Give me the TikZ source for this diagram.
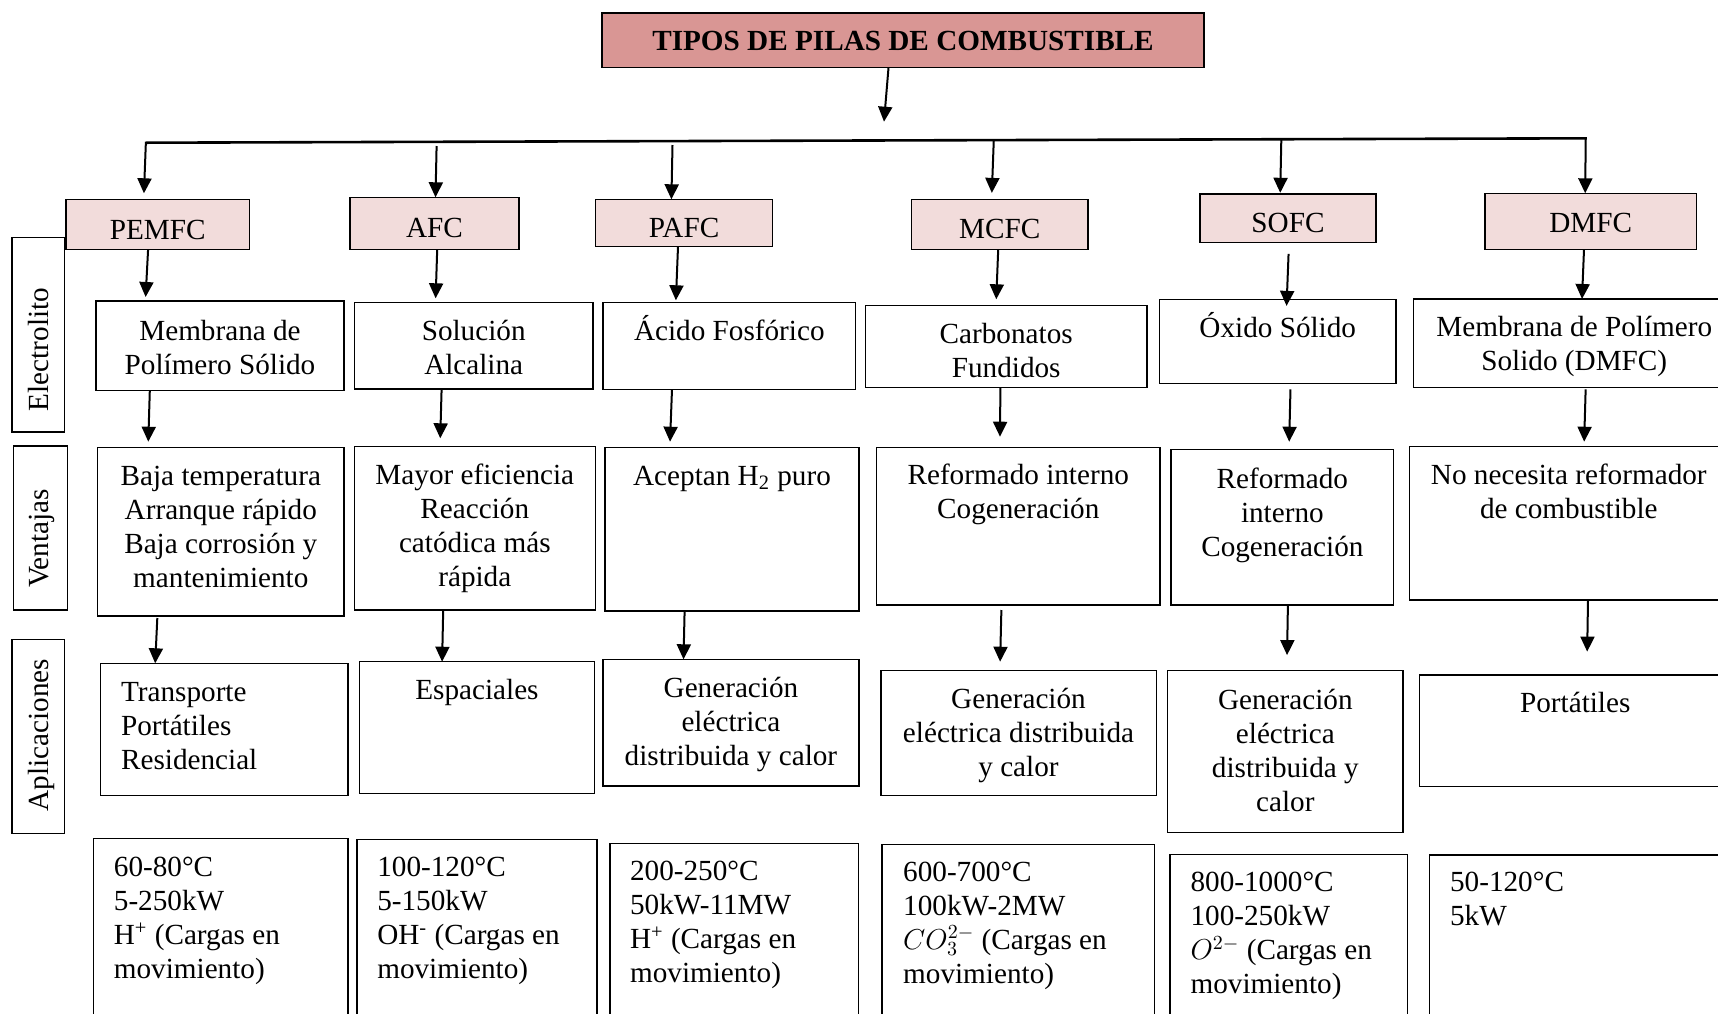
\documentclass[tikz,border=0pt]{standalone}
\usepackage{fontspec}
\setmainfont{Liberation Serif}
\usetikzlibrary{calc,arrows.meta}
\definecolor{titlepink}{RGB}{217,150,148}
\definecolor{typepink}{RGB}{242,220,219}
\newcommand\mkbox[6][]{\node[box,#1,minimum width={(#5-#3)*0.5pt},minimum height={(#6-#4)*0.5pt}] (#2) at (#3,#4) {};}
\newcommand\txtsize{\fontsize{14.6}{17}\selectfont}
\begin{document}
\begin{tikzpicture}[x=0.5pt,y=-0.5pt,
  box/.style={draw=black,line width=0.7pt,inner sep=0pt,outer sep=0pt,anchor=north west},
  arr/.style={line width=1pt,-{Triangle[length=7.5pt,width=7pt]}},
  bus/.style={line width=1.3pt},
  ctext/.style={inner sep=0pt,font=\txtsize,align=center,anchor=base},
  ltext/.style={inner sep=0pt,font=\txtsize,align=left,anchor=base west},
  side/.style={inner sep=0pt,font=\txtsize,rotate=90,anchor=base west}]
\useasboundingbox (0,0) rectangle (1718,1013);
\clip (0,0) rectangle (1718,1013);

% title
\mkbox[fill=titlepink]{title}{602}{13}{1204}{67.7}
\node[ctext,font=\txtsize\bfseries] (titlet) at (title.north |- 0,50) {TIPOS DE PILAS DE COMBUSTIBLE};

% side labels
\mkbox{s1}{12}{237.3}{64.7}{432}
\mkbox{s2}{13.7}{446}{67.5}{610}
\mkbox{s3}{12}{639.3}{64.7}{833.3}
\node[side] (s1t) at ($(s1.south west)+(36.5,-20.3)$) {Electrolito};
\node[side] (s2t) at ($(s2.south west)+(34.8,-21.7)$) {Ventajas};
\node[side] (s3t) at ($(s3.south west)+(36.5,-21.6)$) {Aplicaciones};

% type boxes
\mkbox[fill=typepink]{t1}{65.8}{199.3}{249.6}{249.3}
\mkbox[fill=typepink]{t2}{350}{197.3}{519}{249.3}
\mkbox[fill=typepink]{t3}{595.7}{199.3}{772.4}{246.7}
\mkbox[fill=typepink]{t4}{911.6}{199.3}{1088}{249.3}
\mkbox[fill=typepink]{t5}{1200}{194}{1376}{242.3}
\mkbox[fill=typepink]{t6}{1484.8}{193.3}{1696.5}{249.3}
\node[ctext] (t1t) at (t1.north |- 0,239.3) {PEMFC};
\node[ctext] (t2t) at (t2.north |- 0,237.3) {AFC};
\node[ctext] (t3t) at (t3.north |- 0,237.3) {PAFC};
\node[ctext] (t4t) at (t4.north |- 0,238.7) {MCFC};
\node[ctext] (t5t) at (t5.north |- 0,232.3) {SOFC};
\node[ctext] (t6t) at (t6.north |- 0,232.3) {DMFC};

% electrolito row (base anchor = last line)
\mkbox{e1}{96}{301}{344}{390.7}
\mkbox{e2}{354.4}{302.3}{593}{389}
\mkbox{e3}{602.9}{302.3}{855.7}{389.3}
\mkbox{e4}{865.5}{305.7}{1146.9}{387.3}
\mkbox{e5}{1159.5}{299.7}{1396}{383.7}
\mkbox{e6}{1413.5}{299}{1735}{387.3}
\node[ctext] (e1t) at (e1.north |- 0,374) {Membrana de\\Polímero Sólido};
\node[ctext] (e2t) at (e2.north |- 0,374) {Solución\\Alcalina};
\node[ctext] (e3t) at (e3.north |- 0,340) {Ácido Fosfórico};
\node[ctext] (e4t) at (e4.north |- 0,377.3) {Carbonatos\\Fundidos};
\node[ctext] (e5t) at (e5.north |- 0,337.7) {Óxido Sólido};
\node[ctext] (e6t) at (e6.north |- 0,370.7) {Membrana de Polímero\\Solido (DMFC)};

% ventajas row
\mkbox{v1}{97.6}{447.7}{344}{616}
\mkbox{v2}{354.4}{446.7}{595.2}{610}
\mkbox{v3}{605}{447.7}{859}{611}
\mkbox{v4}{876.5}{447.3}{1160}{605}
\mkbox{v5}{1171}{449.3}{1393.7}{605}
\mkbox{v6}{1409.6}{446.7}{1728}{600}
\node[ctext] (v1t) at (v1.north |- 0,587.5) {Baja temperatura\\Arranque rápido\\Baja corrosión y\\mantenimiento};
\node[ctext] (v2t) at (v2.north |- 0,586.5) {Mayor eficiencia\\Reacción\\catódica más\\rápida};
\node[ctext] (v3t) at (v3.north |- 0,485.5) {Aceptan H\textsubscript{2} puro};
\node[ctext] (v4t) at (v4.north |- 0,518.5) {Reformado interno\\Cogeneración};
\node[ctext] (v5t) at (v5.north |- 0,556) {Reformado\\interno\\Cogeneración};
\node[ctext] (v6t) at (v6.north |- 0,518.5) {No necesita reformador\\de combustible};

% aplicaciones row
\mkbox{a1}{100.4}{663.3}{347.8}{795.7}
\mkbox{a2}{359.3}{661.7}{594.6}{793.3}
\mkbox{a3}{602.9}{659.3}{859}{786}
\mkbox{a4}{880.8}{670.7}{1156.2}{795.7}
\mkbox{a5}{1167.7}{670.7}{1403}{832.3}
\mkbox{a6}{1419.5}{675}{1731}{786.7}
\node[ltext] (a1t) at (120.7,769) {Transporte\\Portátiles\\Residencial};
\node[ctext] (a2t) at (a2.north |- 0,699.5) {Espaciales};
\node[ctext] (a3t) at (a3.north |- 0,765.5) {Generación\\eléctrica\\distribuida y calor};
\node[ctext] (a4t) at (a4.north |- 0,776.5) {Generación\\eléctrica distribuida\\y calor};
\node[ctext] (a5t) at (a5.north |- 0,811) {Generación\\eléctrica\\distribuida y\\calor};
\node[ctext] (a6t) at (a6.north |- 0,712.7) {Portátiles};

% data row
\mkbox{d1}{93.3}{838.3}{347.8}{1030}
\mkbox{d2}{357.1}{839.3}{596.8}{1030}
\mkbox{d3}{610}{843.3}{858.5}{1030}
\mkbox{d4}{882}{844.3}{1154.6}{1030}
\mkbox{d5}{1170}{854.3}{1407.4}{1030}
\mkbox{d6}{1429.4}{855}{1740}{1030}
\node[ltext] (d1t) at (113.5,978.7) {60-80°C\\5-250kW\\H\textsuperscript{+} (Cargas en\\movimiento)};
\node[ltext] (d2t) at (376.9,978.7) {100-120°C\\5-150kW\\OH\textsuperscript{-} (Cargas en\\movimiento)};
\node[ltext] (d3t) at (629.7,982.7) {200-250°C\\50kW-11MW\\H\textsuperscript{+} (Cargas en\\movimiento)};
\node[ltext] (d4t) at (902.8,983.7) {600-700°C\\100kW-2MW\\$CO_3^{2-}$ (Cargas en\\movimiento)};
\node[ltext] (d5t) at (1190.2,993.7) {800-1000°C\\100-250kW\\$O^{2-}$ (Cargas en\\movimiento)};
\node[ltext] (d6t) at (1449.7,925.7) {50-120°C\\5kW};

% title to bus
\coordinate (hub) at (884,121.7);
\draw[arr] (888.5,0 |- title.south) -- (hub);
\coordinate (busL) at (146.5,142.7);
\coordinate (busR) at (1586.8,138.3);
\draw[bus] (busL) -- (busR);
\coordinate (b1) at (145.9,141.7);
\coordinate (b2) at (436.6,146);
\coordinate (b3) at (672.5,145);
\coordinate (b4) at (993.8,139.3);
\coordinate (b5) at (1281.3,140);
\coordinate (b6) at (1585.7,138.3);
\draw[arr,shorten >=3pt] (b1) -- (143.7,0 |- t1.north);
\draw[arr] (b2) -- (435.5,0 |- t2.north);
\draw[arr] (b3) -- (671.4,0 |- t3.north);
\draw[arr,shorten >=3.2pt] (b4) -- (991.6,0 |- t4.north);
\draw[arr,shorten >=0.6pt] (b5) -- (1280.2,0 |- t5.north);
\draw[arr] (b6) -- (1585.2,0 |- t6.north);

% type to electrolito
\draw[arr,shorten >=2pt] (148.1,0 |- t1.south) -- (145.4,0 |- e1.north);
\draw[arr,shorten >=2pt] (437.2,0 |- t2.south) -- (435.5,0 |- e2.north);
\draw[arr,shorten >=1pt] (678,0 |- t3.south) -- (675.8,0 |- e3.north);
\draw[arr,shorten >=3.2pt] (998.2,0 |- t4.south) -- (996,0 |- e4.north);
\draw[arr,shorten <=5.8pt,shorten >=-3.1pt] (1289,0 |- t5.south) -- (1286.8,0 |- e5.north);
\draw[arr] (1584,0 |- t6.south) -- (1582,0 |- e6.north);

% electrolito to ventajas
\draw[arr,shorten >=3pt] (149.8,0 |- e1.south) -- (148.1,0 |- v1.north);
\draw[arr,shorten >=4.2pt] (441.6,0 |- e2.south) -- (440,0 |- v2.north);
\draw[arr,shorten >=3pt] (672,0 |- e3.south) -- (669.8,0 |- v3.north);
\draw[arr,shorten >=5.3pt] (1000.4,0 |- e4.south) -- (999.9,0 |- v4.north);
\draw[arr,shorten <=2.8pt,shorten >=3.8pt] (1290.6,0 |- e5.south) -- (1289,0 |- v5.north);
\draw[arr,shorten <=1pt,shorten >=2.5pt] (1585.7,0 |- e6.south) -- (1584,0 |- v6.north);

% ventajas to aplicaciones
\draw[arr,shorten <=1pt] (157.4,0 |- v1.south) -- (155.2,0 |- a1.north);
\draw[arr] (443.2,0 |- v2.south) -- (442.1,0 |- a2.north);
\draw[arr] (684.6,0 |- v3.south) -- (683.5,0 |- a3.north);
\draw[arr,shorten <=2.5pt,shorten >=4.5pt] (1001.5,0 |- v4.south) -- (999.9,0 |- a4.north);
\draw[arr,shorten >=7.8pt] (1287.9,0 |- v5.south) -- (1286.8,0 |- a5.north);
\draw[arr,shorten >=11.7pt] (1588,0 |- v6.south) -- (1586.8,0 |- a6.north);
\end{tikzpicture}
\end{document}
